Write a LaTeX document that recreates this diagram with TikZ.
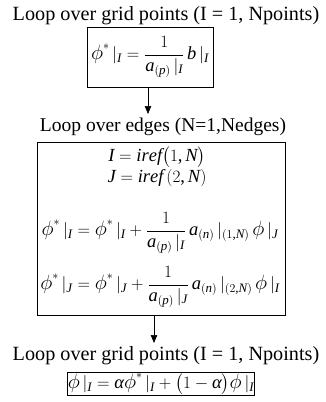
\documentclass[tikz,border=0pt]{standalone}
\usepackage{amsmath}
\usepackage{fontspec}
\setmainfont{Liberation Serif}
\DeclareSymbolFont{operators}{TU}{\rmdefault}{m}{n}
\DeclareSymbolFont{letters}{TU}{\rmdefault}{m}{it}
\DeclareSymbolFont{cmletters}{OML}{lmm}{m}{it}
\DeclareMathSymbol{\cmphi}{\mathord}{cmletters}{"1E}
\mathcode`\,="602C
\newcommand\gphi{\mathord{\mbox{\fontsize{22.5}{23}\selectfont$\cmphi$}}}
\newcommand\galpha{\mbox{\itshape α}}
\usetikzlibrary{arrows.meta}
\tikzset{
  title/.style={font=\fontsize{20.2}{23}\selectfont, inner sep=0pt, anchor=base},
  eqbox/.style={draw, line width=0.8pt, inner sep=0pt},
  eq/.style={font=\fontsize{18.5}{21}\selectfont, inner sep=0pt},
  flow/.style={-{Triangle[length=8pt,width=6.5pt]}, line width=0.6pt}
}
\begin{document}
\begin{tikzpicture}
\useasboundingbox (0,0) rectangle (325pt,-402pt);
% titles
\node[title] (t1) at (166pt,-20pt) {Loop over grid points (I = 1, Npoints)};
\node[title, font=\fontsize{19.5}{22}\selectfont] (t2) at (163pt,-131pt) {Loop over edges (N=1,Nedges)};
\node[title] (t3) at (166pt,-360pt) {Loop over grid points (I = 1, Npoints)};
% box 1
\node[eqbox, eq, minimum width=126pt, minimum height=60pt] (box1) at (150pt,-57pt)
  {$\gphi^{*}\,|_{I} = \dfrac{1}{a_{(p)}\,|_{I}}\, b\,|_{I}$};
% box 2
\node[eqbox, minimum width=248pt, minimum height=173pt] (box2) at (161pt,-228.5pt) {};
\node[eq] (r1) at (157pt,-157pt) {$I = iref\bigl(1, N\bigr)$};
\node[eq] (r2) at (157pt,-178pt) {$J = iref\,(2, N)$};
\node[eq] (r3) at (160pt,-233pt)
  {$\gphi^{*}\,|_{I} = \gphi^{*}\,|_{I} + \dfrac{1}{a_{(p)}\,|_{I}}\, a_{(n)}\,|_{(1,N)}\,\gphi\,|_{J}$};
\node[eq] (r4) at (160pt,-287pt)
  {$\gphi^{*}\,|_{J} = \gphi^{*}\,|_{J} + \dfrac{1}{a_{(p)}\,|_{J}}\, a_{(n)}\,|_{(2,N)}\,\gphi\,|_{I}$};
% box 3
\node[eqbox, eq, minimum width=178pt, minimum height=23pt] (box3) at (161pt,-384pt)
  {$\gphi\,|_{I} = \galpha\gphi^{*}\,|_{I} + \bigl(1-\galpha\bigr)\gphi\,|_{I}$};
% arrows
\coordinate (a1) at (148pt,-114pt);
\coordinate (a2) at (154pt,-343pt);
\draw[flow] (box1.south -| a1) -- (a1);
\draw[flow] (box2.south -| a2) -- (a2);
\end{tikzpicture}
\end{document}
